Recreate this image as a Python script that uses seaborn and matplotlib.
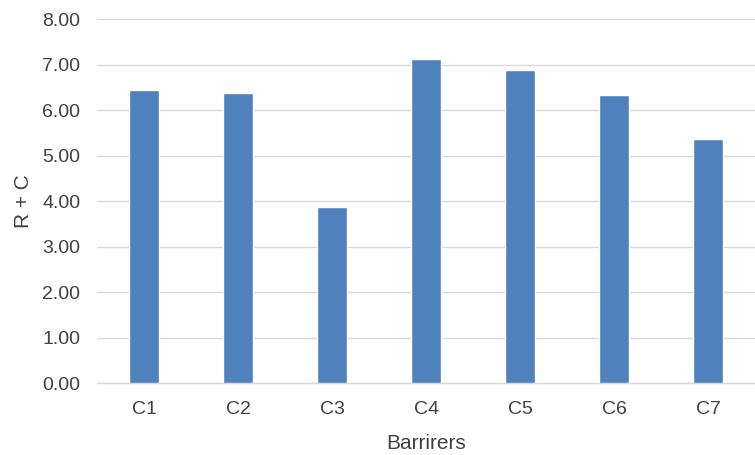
import matplotlib
matplotlib.use("Agg")
import matplotlib.pyplot as plt
import seaborn as sns
import pandas as pd

categories = ["C1", "C2", "C3", "C4", "C5", "C6", "C7"]
r_plus_c = [6.45, 6.37, 3.88, 7.13, 6.89, 6.33, 5.36]
y_ticks = [0, 1, 2, 3, 4, 5, 6, 7, 8]

df = pd.DataFrame({"Barrirers": categories, "R + C": r_plus_c})

sns.set_theme(style="white")
plt.rcParams["font.family"] = ["Liberation Sans", "DejaVu Sans"]

fig = plt.figure(figsize=(7.55, 4.55), dpi=100)
ax = fig.add_axes([0.1285, 0.1576, 0.8715, 0.80])

sns.barplot(data=df, x="Barrirers", y="R + C", color="#4F81BD",
            width=0.31, saturation=1, ax=ax, zorder=3)

ax.set_ylim(0, 8)
ax.set_xlim(-0.5, 6.5)
ax.set_yticks(y_ticks)
ax.set_yticklabels([f"{v:.2f}" for v in y_ticks])
ax.yaxis.grid(True, color="#D9D9D9", linewidth=1.0, zorder=0)
ax.set_axisbelow(True)

for side in ["top", "right", "left"]:
    ax.spines[side].set_visible(False)
ax.spines["bottom"].set_color("#D9D9D9")
ax.spines["bottom"].set_linewidth(1.0)

ax.tick_params(axis="both", length=0, labelsize=14, labelcolor="#404040")
ax.tick_params(axis="y", pad=12)
ax.tick_params(axis="x", pad=13)
ax.set_xlabel("Barrirers", fontsize=15, color="#404040", labelpad=11)
ax.set_ylabel("R + C", fontsize=15, color="#404040", labelpad=7)

fig.savefig("out.png", dpi=100)
